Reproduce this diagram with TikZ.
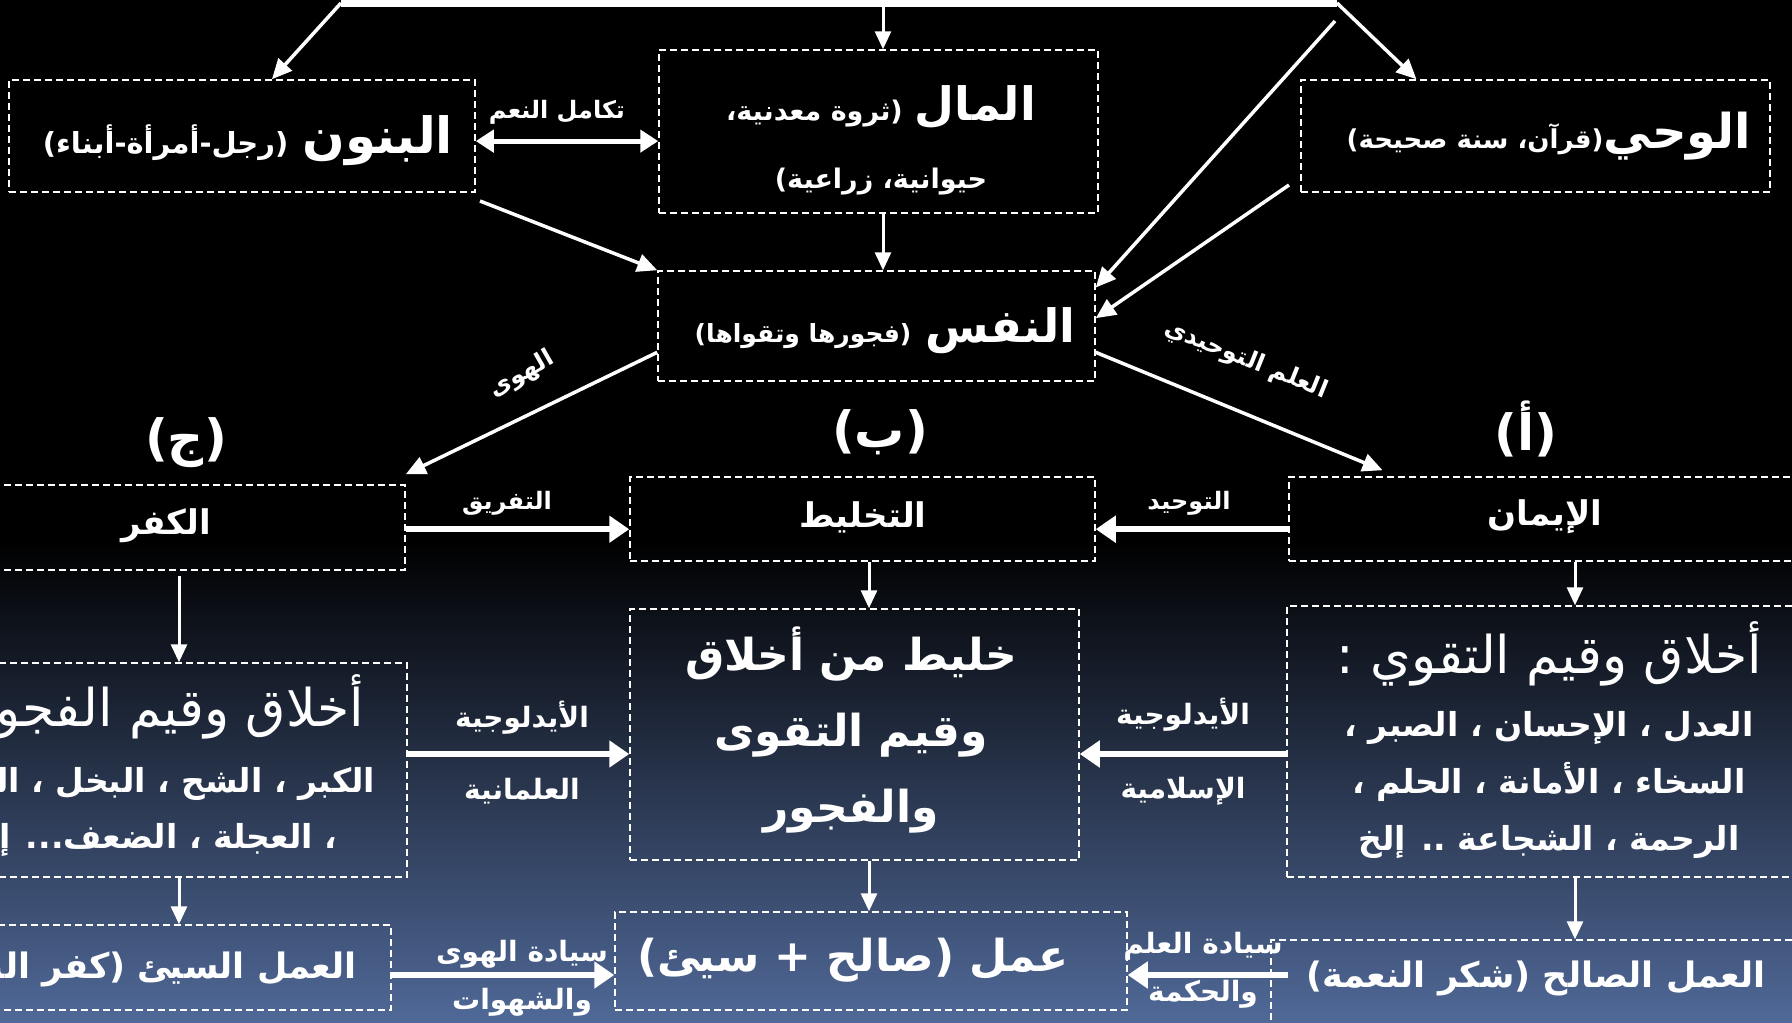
\documentclass[tikz,border=0pt]{standalone}
\usepackage{fontspec}
\setmainfont{DejaVu Sans}
\newfontfamily\arfont[Script=Arabic]{DejaVu Sans}
\TeXXeTstate=1
\usetikzlibrary{arrows.meta,calc}
\newcommand\RL[1]{\beginR #1\endR}
\newcommand\fsz[1]{\fontsize{#1}{#1}\selectfont}
\definecolor{bgblue}{RGB}{80,105,152}
\tikzset{
  box/.style={draw=white, line width=1.5pt, dash pattern=on 7pt off 4pt, inner sep=0pt},
  txt/.style={text=white, inner sep=0pt, align=center},
  conn/.style={draw=white, line width=3.5pt, -{Triangle[length=20pt,width=18pt]}},
  harrow/.style={draw=white, line width=6pt, -{Triangle[length=20pt,width=26pt]}},
  varrow/.style={draw=white, line width=3pt, -{Triangle[length=18pt,width=16pt]}},
  dblarrow/.style={draw=white, line width=5pt, {Triangle[length=18pt,width=22pt]}-{Triangle[length=18pt,width=22pt]}},
}
\begin{document}
\begin{tikzpicture}[x=1pt,y=-1pt]
\useasboundingbox (0,0) rectangle (1792,1023);
\clip (0,0) rectangle (1792,1023);
\fill[black] (0,0) rectangle (1792,1023);
\shade[top color=black, bottom color=bgblue] (0,540) rectangle (1792,1023);

% boxes
\node[box, minimum width=466pt, minimum height=112pt] (bnun) at (242,136) {};
\node[box, minimum width=439pt, minimum height=163pt] (mal) at (878.5,131.5) {};
\node[box, minimum width=469pt, minimum height=112pt] (wahy) at (1535.5,136) {};
\node[box, minimum width=437pt, minimum height=110pt] (nafs) at (876.5,326) {};
\node[box, minimum width=478pt, minimum height=85pt] (kufr) at (166,527.5) {};
\node[box, minimum width=465pt, minimum height=84pt] (takhlit) at (862.5,519) {};
\node[box, minimum width=511pt, minimum height=84pt] (iman) at (1544.5,519) {};
\node[box, minimum width=507pt, minimum height=214pt] (fujur) at (153.5,770) {};
\node[box, minimum width=449pt, minimum height=251pt] (khalit) at (854.5,734.5) {};
\node[box, minimum width=513pt, minimum height=271pt] (taqwa) at (1543.5,741.5) {};
\node[box, minimum width=508pt, minimum height=85pt] (sayyi) at (137,967.5) {};
\node[box, minimum width=512pt, minimum height=98pt] (amal) at (871,961) {};
\node[box, minimum width=529pt, minimum height=90pt] (salih) at (1535.5,985) {};

% box texts
\node[txt, font=\arfont\bfseries] (bnunT) at (248,141) {\RL{{\fsz{50}البنون}\hspace{14pt}{\fsz{29}(رجل-أمرأة-أبناء)}}};
\node[txt, font=\arfont\bfseries\fontsize{27}{68}\selectfont] (malT) at (881,140) {\RL{{\fsz{46}المال}\hspace{12pt}(ثروة معدنية،}\\\RL{حيوانية، زراعية)}};
\node[txt, font=\arfont\bfseries] (wahyT) at (1549,136) {\RL{{\fsz{48}الوحي}{\fsz{26}(قرآن، سنة صحيحة)}}};
\node[txt, font=\arfont\bfseries] (nafsT) at (885,331) {\RL{{\fsz{46}النفس}\hspace{14pt}{\fsz{25}(فجورها وتقواها)}}};
\node[txt, font=\arfont\bfseries\fsz{34}] (kufrT) at (166,526) {\RL{الكفر}};
\node[txt, font=\arfont\bfseries\fsz{34}] (takhlitT) at (863,517) {\RL{التخليط}};
\node[txt, font=\arfont\bfseries\fsz{34}] (imanT) at (1545,517) {\RL{الإيمان}};
\node[txt, font=\arfont\bfseries\fontsize{33}{56}\selectfont] (fujurT) at (150,766)
  {\RL{{\mdseries\fsz{52}أخلاق وقيم الفجور :}}\\[10pt]\RL{الكبر ، الشح ، البخل ، الظلم}\\\RL{، العجلة ، الضعف... إلخ}};
\node[txt, font=\arfont\bfseries\fontsize{44}{76}\selectfont] (khalitT) at (851,730)
  {\RL{خليط من أخلاق}\\\RL{وقيم التقوى}\\\RL{والفجور}};
\node[txt, font=\arfont\bfseries\fontsize{33}{57}\selectfont] (taqwaT) at (1549,740)
  {\RL{{\mdseries\fsz{52}أخلاق وقيم التقوي :}}\\[6pt]\RL{العدل ، الإحسان ، الصبر ،}\\\RL{السخاء ، الأمانة ، الحلم ،}\\\RL{الرحمة ، الشجاعة .. إلخ}};
\node[txt, font=\arfont\bfseries\fsz{35}, anchor=east] (sayyiT) at (357,969) {\RL{العمل السيئ (كفر النعمة)}};
\node[txt, font=\arfont\bfseries\fsz{44}] (amalT) at (853,960) {\RL{عمل (صالح + سيئ)}};
\node[txt, font=\arfont\bfseries\fsz{35}] (salihT) at (1536,978) {\RL{العمل الصالح (شكر النعمة)}};

% letters
\node[txt, font=\arfont\bfseries\fsz{50}] (lj) at (186,443) {\RL{(ج)}};
\node[txt, font=\arfont\bfseries\fsz{50}] (lb) at (880,432) {\RL{(ب)}};
\node[txt, font=\arfont\bfseries\fsz{50}] (la) at (1526,429) {\RL{(أ)}};

% connector labels
\node[txt, font=\arfont\bfseries\fsz{24}] (lbl1) at (557,112) {\RL{تكامل النعم}};
\node[txt, font=\arfont\bfseries\fsz{24}, rotate=30] (lbl2) at (522,375) {\RL{الهوى}};
\node[txt, font=\arfont\bfseries\fsz{24}, rotate=-22] (lbl3) at (1246,360) {\RL{العلم التوحيدي}};
\node[txt, font=\arfont\bfseries\fsz{24}] (lbl4) at (507,503) {\RL{التفريق}};
\node[txt, font=\arfont\bfseries\fsz{24}] (lbl5) at (1189,503) {\RL{التوحيد}};
\node[txt, font=\arfont\bfseries\fsz{28}] (lbl6) at (522,718) {\RL{الأيدلوجية}};
\node[txt, font=\arfont\bfseries\fsz{28}] (lbl7) at (522,791) {\RL{العلمانية}};
\node[txt, font=\arfont\bfseries\fsz{28}] (lbl8) at (1183,715) {\RL{الأيدلوجية}};
\node[txt, font=\arfont\bfseries\fsz{28}] (lbl9) at (1183,791) {\RL{الإسلامية}};
\node[txt, font=\arfont\bfseries\fsz{28}] (lbl10) at (522,954) {\RL{سيادة الهوى}};
\node[txt, font=\arfont\bfseries\fsz{28}] (lbl11) at (522,1002) {\RL{والشهوات}};
\node[txt, font=\arfont\bfseries\fsz{28}] (lbl12) at (1203,946) {\RL{سيادة العلم}};
\node[txt, font=\arfont\bfseries\fsz{28}] (lbl13) at (1203,994) {\RL{والحكمة}};

% connectors
\coordinate (t1) at (341,3);
\coordinate (t2) at (883,3);
\coordinate (t3) at (1337,3);
\draw[white, line width=7pt] (t1) -- (t3);
\draw[conn] (t1) -- ($(bnun.north west)!0.564!(bnun.north east)$);
\draw[varrow] (t2) -- (t2 |- mal.north);
\draw[conn] (t3) -- ($(wahy.north west)!0.247!(wahy.north east)$);
\coordinate (s4) at (1335,21);
\draw[conn] (s4) -- ($(nafs.north east)!0.155!(nafs.south east)$);
\coordinate (s5) at (1289,185);
\draw[conn] (s5) -- ($(nafs.north east)!0.43!(nafs.south east)$);
\coordinate (s6) at (480,201);
\draw[conn] (s6) -- (nafs.north west);
\draw[varrow] (mal.south -| t2) -- (nafs.north -| t2);
\coordinate (d1) at ($(bnun.north east)!0.545!(bnun.south east)$);
\draw[dblarrow] (d1) -- (d1 -| mal.west);
\coordinate (h1) at ($(nafs.north west)!0.736!(nafs.south west)$);
\draw[conn] (h1) -- ($(kufr.north east)+(0,-10)$);
\coordinate (h2) at ($(nafs.north east)!0.736!(nafs.south east)$);
\draw[conn] (h2) -- ($(iman.north west)!0.184!(iman.north east)+(0,-6)$);
\coordinate (k1) at ($(kufr.north east)!0.52!(kufr.south east)$);
\draw[harrow] (k1) -- (k1 -| takhlit.west);
\coordinate (i1) at ($(iman.north west)!0.619!(iman.south west)$);
\draw[harrow] (i1) -- (i1 -| takhlit.east);
\coordinate (xL) at (179,0);
\coordinate (xC) at (869,0);
\coordinate (xR) at (1575,0);
\draw[varrow] ($(kufr.south -| xL)+(0,5)$) -- (fujur.north -| xL);
\draw[varrow] (takhlit.south -| xC) -- (khalit.north -| xC);
\draw[varrow] (iman.south -| xR) -- (taqwa.north -| xR);
\coordinate (yM) at (0,754);
\draw[harrow] (fujur.east |- yM) -- (khalit.west |- yM);
\draw[harrow] (taqwa.west |- yM) -- (khalit.east |- yM);
\draw[varrow] (fujur.south -| xL) -- (sayyi.north -| xL);
\draw[varrow] (khalit.south -| xC) -- (amal.north -| xC);
\draw[varrow] (taqwa.south -| xR) -- (salih.north -| xR);
\coordinate (yB) at (0,975);
\draw[harrow] (sayyi.east |- yB) -- (amal.west |- yB);
\draw[harrow] ($(salih.west |- yB)+(18,0)$) -- (amal.east |- yB);
\end{tikzpicture}
\end{document}
